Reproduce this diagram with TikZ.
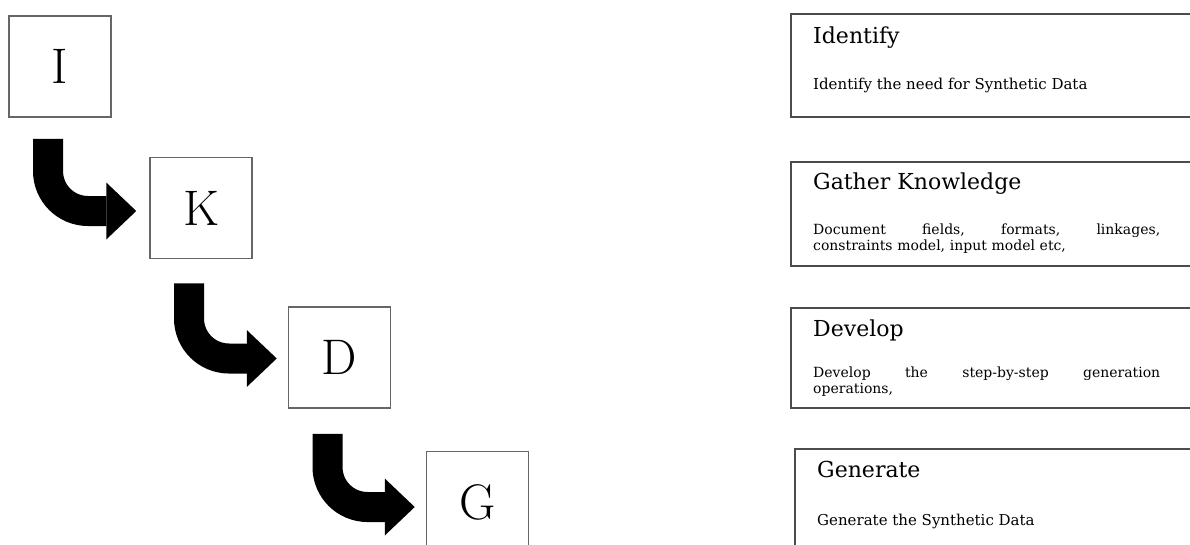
\documentclass[tikz,border=0pt]{standalone}
\usepackage{fontspec}
\newfontfamily\boxfont{DejaVu Serif}
\usetikzlibrary{arrows.meta, positioning}

\begin{document}
\begin{tikzpicture}[x=1pt, y=-1pt,
    letterbox/.style={draw=black!60, line width=1.5pt, minimum width=102pt, minimum height=101pt, inner sep=0pt, font=\fontsize{50}{50}\selectfont},
    bentarrow/.style={line width=30pt, rounded corners=40pt, -{Triangle[length=30pt, width=57pt, line width=0pt]}},
    infobox/.style={draw=black!70, line width=1.5pt, anchor=north west, minimum width=430pt, inner sep=0pt},
    infotitle/.style={anchor=base west, inner sep=0pt, font=\boxfont\fontsize{22}{26}\selectfont},
    infotext/.style={anchor=base west, inner sep=0pt, font=\boxfont\fontsize{15}{18}\selectfont},
    infopara/.style={anchor=base west, inner sep=0pt, text width=347pt, font=\boxfont\fontsize{14}{16.5}\selectfont}]
  \useasboundingbox (0,0) rectangle (1190,544);

  % the four steps
  \node[letterbox] (I) at (60,66.5) {I};
  \node[letterbox] (K) at (201,208) {K};
  \node[letterbox] (D) at (339.5,357.5) {D};
  \node[letterbox] (G) at (477.5,502) {G};

  \draw[bentarrow] ([xshift=-12pt,yshift=-21pt]I.south) |- ([xshift=-13pt,yshift=-3pt]K.west);
  \draw[bentarrow] ([xshift=-12pt,yshift=-24pt]K.south) |- ([xshift=-11pt,yshift=-1pt]D.west);
  \draw[bentarrow] ([xshift=-12pt,yshift=-25pt]D.south) |- ([xshift=-11pt,yshift=-5pt]G.west);

  % descriptions
  \node[infobox, minimum height=103pt] (identbox) at (790,13) {};
  \node[infotitle] (identtitle) at ([xshift=23pt,yshift=-30pt]identbox.north west) {Identify};
  \node[infotext] (identtext) at ([xshift=23pt,yshift=-76pt]identbox.north west) {Identify the need for Synthetic Data};

  \node[infobox, minimum height=104pt] (knowbox) at (790,161) {};
  \node[infotitle] (knowtitle) at ([xshift=23pt,yshift=-28pt]knowbox.north west) {Gather Knowledge};
  \node[infopara] (knowtext) at ([xshift=23pt,yshift=-73pt]knowbox.north west)
    {Document\hfill fields,\hfill formats,\hfill linkages,\\constraints model, input model etc,};

  \node[infobox, minimum height=100pt] (devbox) at (790,307) {};
  \node[infotitle] (devtitle) at ([xshift=23pt,yshift=-29pt]devbox.north west) {Develop};
  \node[infopara] (devtext) at ([xshift=23pt,yshift=-70pt]devbox.north west)
    {Develop\hfill the\hfill step-by-step\hfill generation\\operations,};

  \node[infobox, minimum height=120pt] (genbox) at (794,448) {};
  \node[infotitle] (gentitle) at ([xshift=23pt,yshift=-29pt]genbox.north west) {Generate};
  \node[infotext] (gentext) at ([xshift=23pt,yshift=-77pt]genbox.north west) {Generate the Synthetic Data};
\end{tikzpicture}
\end{document}
